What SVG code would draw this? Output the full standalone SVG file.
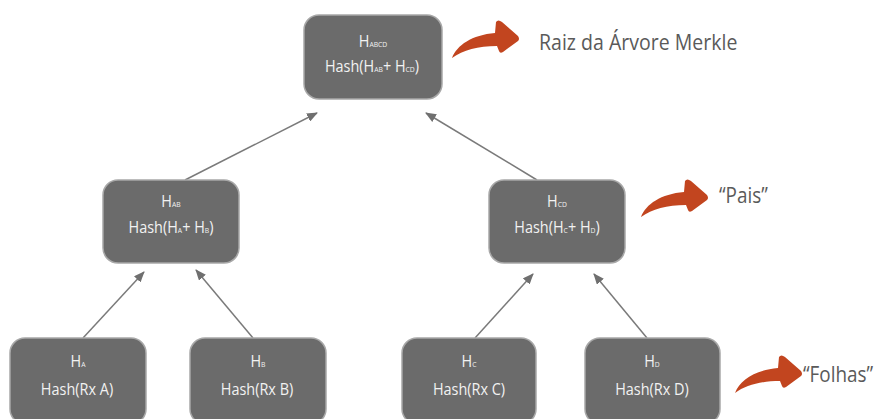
<svg xmlns="http://www.w3.org/2000/svg" width="878" height="419" viewBox="0 0 878 419">
<style>
.box{fill:#6b6b6b;stroke:#a8a8a8;stroke-width:1.5}
.t{font-family:"Open Sans","Noto Sans",sans-serif;fill:#f2f2f2;font-size:17px;text-anchor:middle}
.s{font-size:8px}
.edge{stroke:#7a7a7a;stroke-width:1.5;fill:none;marker-end:url(#ah)}
.lbl{font-family:"Open Sans","Noto Sans",sans-serif;fill:#5a5a5a;font-size:21px}
.red{fill:#c2451f}
</style>
<defs>
<marker id="ah" markerUnits="userSpaceOnUse" markerWidth="11" markerHeight="9" refX="10" refY="4.5" orient="auto">
<path d="M0,0 L11,4.5 L0,9 Z" fill="#6f6f6f"/>
</marker>
<path id="curl" d="M452,58 C457,45 472,35 495,33 L496,22 Q498,19 502,22 L518,36 Q520,39 518,41 L503,52 Q500,54 499,51 L497,46 C478,46 463,50 452,58 Z"/>
</defs>
<rect width="878" height="419" fill="#ffffff"/>
<g id="connectors">
<line class="edge" x1="185" y1="180" x2="317" y2="113"/>
<line class="edge" x1="537" y1="180" x2="426" y2="113"/>
<line class="edge" x1="83" y1="338" x2="144" y2="272"/>
<line class="edge" x1="253" y1="338" x2="196" y2="270"/>
<line class="edge" x1="475" y1="338" x2="533" y2="274"/>
<line class="edge" x1="647" y1="338" x2="594" y2="274"/>
</g>
<g id="node-root">
<rect class="box" x="304" y="15" width="138" height="84" rx="15"/>
<text class="t" transform="translate(373,47) scale(0.85,1)">H<tspan class="s">ABCD</tspan></text>
<text class="t" transform="translate(372,72) scale(0.85,1)">Hash(H<tspan class="s">AB</tspan>+ H<tspan class="s">CD</tspan>)</text>
</g>
<g id="node-ab">
<rect class="box" x="103" y="180" width="136" height="83" rx="15"/>
<text class="t" transform="translate(171,207) scale(0.85,1)">H<tspan class="s">AB</tspan></text>
<text class="t" transform="translate(171,233) scale(0.85,1)">Hash(H<tspan class="s">A</tspan>+ H<tspan class="s">B</tspan>)</text>
</g>
<g id="node-cd">
<rect class="box" x="489" y="180" width="136" height="83" rx="15"/>
<text class="t" transform="translate(557,207) scale(0.85,1)">H<tspan class="s">CD</tspan></text>
<text class="t" transform="translate(557,233) scale(0.85,1)">Hash(H<tspan class="s">C</tspan>+ H<tspan class="s">D</tspan>)</text>
</g>
<g id="node-a">
<rect class="box" x="10" y="338" width="136" height="86" rx="15"/>
<text class="t" transform="translate(78,367) scale(0.85,1)">H<tspan class="s">A</tspan></text>
<text class="t" transform="translate(77,395) scale(0.85,1)">Hash(Rx A)</text>
</g>
<g id="node-b">
<rect class="box" x="190" y="338" width="136" height="86" rx="15"/>
<text class="t" transform="translate(258,367) scale(0.85,1)">H<tspan class="s">B</tspan></text>
<text class="t" transform="translate(257,395) scale(0.85,1)">Hash(Rx B)</text>
</g>
<g id="node-c">
<rect class="box" x="402" y="338" width="134" height="86" rx="15"/>
<text class="t" transform="translate(469,367) scale(0.85,1)">H<tspan class="s">C</tspan></text>
<text class="t" transform="translate(469,395) scale(0.85,1)">Hash(Rx C)</text>
</g>
<g id="node-d">
<rect class="box" x="585" y="338" width="135" height="86" rx="15"/>
<text class="t" transform="translate(652,367) scale(0.85,1)">H<tspan class="s">D</tspan></text>
<text class="t" transform="translate(652,395) scale(0.85,1)">Hash(Rx D)</text>
</g>
<g id="annotations">
<use href="#curl" class="red"/>
<use href="#curl" class="red" transform="translate(189,159)"/>
<use href="#curl" class="red" transform="translate(283,335)"/>
<text class="lbl" transform="translate(539,50) scale(0.93,1)">Raiz da Árvore Merkle</text>
<text class="lbl" transform="translate(719,203) scale(0.9,1)">“Pais”</text>
<text class="lbl" transform="translate(803,382) scale(0.9,1)" font-size="20">“Folhas”</text>
</g>
</svg>
